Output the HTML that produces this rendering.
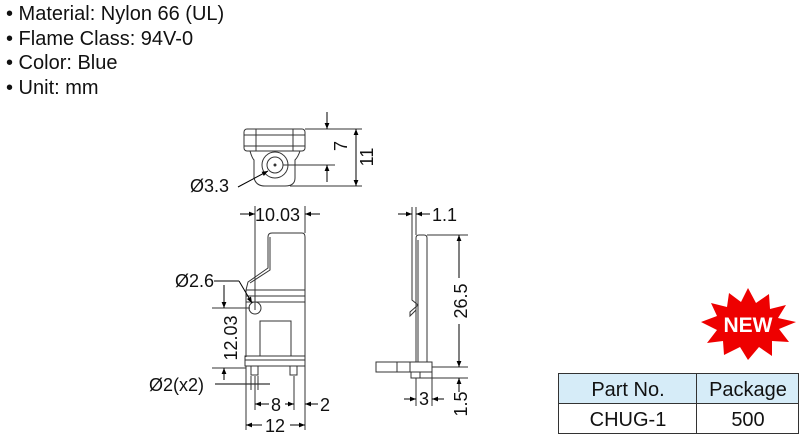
<!DOCTYPE html>
<html><head><style>
body{margin:0;width:800px;height:440px;background:#fff;overflow:hidden;font-family:"Liberation Sans",sans-serif}
svg{position:absolute;left:0;top:0}
</style></head><body>
<svg width="800" height="440" viewBox="0 0 800 440">
<defs>
<marker id="a" viewBox="0 0 10 10" refX="10" refY="5" markerWidth="8" markerHeight="6" orient="auto-start-reverse"><path d="M0,1 L10,5 L0,9z" fill="#000"/></marker>
</defs>
<g font-family="Liberation Sans, sans-serif" font-size="20" fill="#111">
<text x="6" y="20">• Material: Nylon 66 (UL)</text>
<text x="6" y="45">• Flame Class: 94V-0</text>
<text x="6" y="69">• Color: Blue</text>
<text x="6" y="94">• Unit: mm</text>
</g>
<g fill="none" stroke="#333" stroke-width="1">
<rect x="244" y="129" width="61" height="22" rx="3"/>
<line x1="244" y1="135" x2="305" y2="135"/><line x1="244" y1="146" x2="305" y2="146"/>
<line x1="256" y1="129" x2="256" y2="151"/><line x1="293" y1="129" x2="293" y2="151"/>
<path d="M250,151 Q252,158 254,160 L254,178 Q256,186 265,186 L285,186 Q295,186 295,178 L295,160 Q298,157 300,151"/>
<circle cx="275" cy="165" r="13"/><circle cx="275" cy="165" r="8"/>
<circle cx="275" cy="165" r="1" fill="#333"/>
<line x1="305" y1="129" x2="362" y2="129"/><line x1="283" y1="165" x2="335" y2="165"/><line x1="290" y1="186" x2="362" y2="186"/>
<line x1="327" y1="112" x2="327" y2="129" marker-end="url(#a)" stroke="#000"/>
<line x1="327" y1="182" x2="327" y2="165" marker-end="url(#a)" stroke="#000"/>
<line x1="356" y1="129" x2="356" y2="186" marker-start="url(#a)" marker-end="url(#a)" stroke="#000"/>
<line x1="238" y1="187" x2="268" y2="171" stroke="#000" marker-end="url(#a)"/>
<path d="M268,237 Q268,233 272,233 L302,233 Q305,233 305,237 L305,357"/>
<path d="M268,237 L268,268 L248,282 L246,290 L246,357"/>
<path d="M270,237 L270,270 L250,283"/>
<line x1="246" y1="290" x2="305" y2="290"/><line x1="246" y1="296" x2="305" y2="296"/><line x1="246" y1="302" x2="305" y2="302"/>
<circle cx="255" cy="308" r="6"/>
<rect x="260" y="321" width="31" height="35"/>
<rect x="245" y="356" width="60" height="10"/>
<line x1="245" y1="360" x2="305" y2="360"/>
<rect x="251" y="366" width="7" height="9"/><rect x="290" y="366" width="7" height="9"/>
<line x1="255" y1="206" x2="255" y2="310"/><line x1="305" y1="206" x2="305" y2="233"/>
<line x1="240" y1="214" x2="255" y2="214" stroke="#000" marker-end="url(#a)"/>
<line x1="320" y1="214" x2="305" y2="214" stroke="#000" marker-end="url(#a)"/>
<line x1="214" y1="281" x2="239" y2="281" stroke="#000"/>
<line x1="239" y1="281" x2="252" y2="303" stroke="#000" marker-end="url(#a)"/>
<line x1="212" y1="308" x2="250" y2="308"/><line x1="212" y1="368" x2="246" y2="368"/>
<line x1="224" y1="285" x2="224" y2="308" stroke="#000" marker-end="url(#a)"/>
<line x1="224" y1="380" x2="224" y2="368" stroke="#000" marker-end="url(#a)"/>
<line x1="215" y1="384" x2="270" y2="384" stroke="#000"/>
<line x1="246" y1="366" x2="246" y2="430"/><line x1="305" y1="366" x2="305" y2="430"/>
<line x1="251" y1="376" x2="251" y2="390"/><line x1="258" y1="376" x2="258" y2="390"/>
<line x1="255" y1="376" x2="255" y2="410"/><line x1="294" y1="376" x2="294" y2="410"/>
<line x1="269" y1="404" x2="255" y2="404" stroke="#000" marker-end="url(#a)"/>
<line x1="285" y1="404" x2="294" y2="404" stroke="#000" marker-end="url(#a)"/>
<line x1="318" y1="404" x2="305" y2="404" stroke="#000" marker-end="url(#a)"/>
<line x1="262" y1="425" x2="246" y2="425" stroke="#000" marker-end="url(#a)"/>
<line x1="290" y1="425" x2="305" y2="425" stroke="#000" marker-end="url(#a)"/>
<path d="M416,238 Q416,235 419,235 L424,235 Q427,235 427,238 L427,362"/>
<line x1="416" y1="238" x2="416" y2="362"/><line x1="418" y1="240" x2="418" y2="362"/>
<path d="M412,230 L412,300 L418,305 L410,312 L410,316 L416,310"/>
<rect x="376" y="362" width="56" height="10"/>
<line x1="410" y1="362" x2="410" y2="372"/><line x1="397" y1="362" x2="397" y2="372"/>
<rect x="411" y="372" width="9" height="6"/>
<line x1="412" y1="207" x2="412" y2="230"/><line x1="416" y1="207" x2="416" y2="235"/>
<line x1="398" y1="214" x2="412" y2="214" stroke="#000" marker-end="url(#a)"/>
<line x1="430" y1="214" x2="416" y2="214" stroke="#000" marker-end="url(#a)"/>
<line x1="427" y1="235" x2="468" y2="235"/><line x1="432" y1="367" x2="468" y2="367"/><line x1="420" y1="378" x2="468" y2="378"/>
<line x1="459" y1="278" x2="459" y2="235" stroke="#000" marker-end="url(#a)"/>
<line x1="459" y1="324" x2="459" y2="367" stroke="#000" marker-end="url(#a)"/>
<line x1="459" y1="392" x2="459" y2="378" stroke="#000" marker-end="url(#a)"/>
<line x1="416" y1="378" x2="416" y2="406"/><line x1="432" y1="372" x2="432" y2="406"/>
<line x1="404" y1="399" x2="416" y2="399" stroke="#000" marker-end="url(#a)"/>
<line x1="444" y1="399" x2="432" y2="399" stroke="#000" marker-end="url(#a)"/>
</g>
<g font-family="Liberation Sans, sans-serif" font-size="18" fill="#111">
<text x="190" y="192">Ø3.3</text>
<text x="255" y="221">10.03</text>
<text x="175" y="287">Ø2.6</text>
<text x="149" y="391">Ø2(x2)</text>
<text x="271" y="411">8</text>
<text x="320" y="411">2</text>
<text x="265" y="432">12</text>
<text x="432" y="221">1.1</text>
<text x="419" y="405">3</text>
<text transform="translate(347,146) rotate(-90)" text-anchor="middle">7</text>
<text transform="translate(373,157) rotate(-90)" text-anchor="middle">11</text>
<text transform="translate(237,338) rotate(-90)" text-anchor="middle">12.03</text>
<text transform="translate(467,301) rotate(-90)" text-anchor="middle">26.5</text>
<text transform="translate(467,404) rotate(-90)" text-anchor="middle">1.5</text>
</g>
<polygon fill="#e00" points="748,288 756,303 769,294 770,309 786,305 778,318 796,322 779,329 789,342 772,341 772,356 759,347 748,360 740,347 724,355 723,341 707,343 717,330 701,322 717,316 711,303 727,307 729,293 741,302"/>
<text x="748" y="332" text-anchor="middle" font-family="Liberation Sans, sans-serif" font-size="21" font-weight="bold" fill="#fff">NEW</text>
<rect x="558.5" y="373.5" width="240" height="30" fill="#d6ecf8" stroke="#333"/>
<rect x="558.5" y="403.5" width="240" height="30" fill="#fff" stroke="#333"/>
<line x1="696.5" y1="373" x2="696.5" y2="434" stroke="#333"/>
<g font-family="Liberation Sans, sans-serif" font-size="20" fill="#111" text-anchor="middle">
<text x="628" y="396">Part No.</text><text x="748" y="396">Package</text>
<text x="628" y="426">CHUG-1</text><text x="748" y="426">500</text>
</g>
</svg>
</body></html>
